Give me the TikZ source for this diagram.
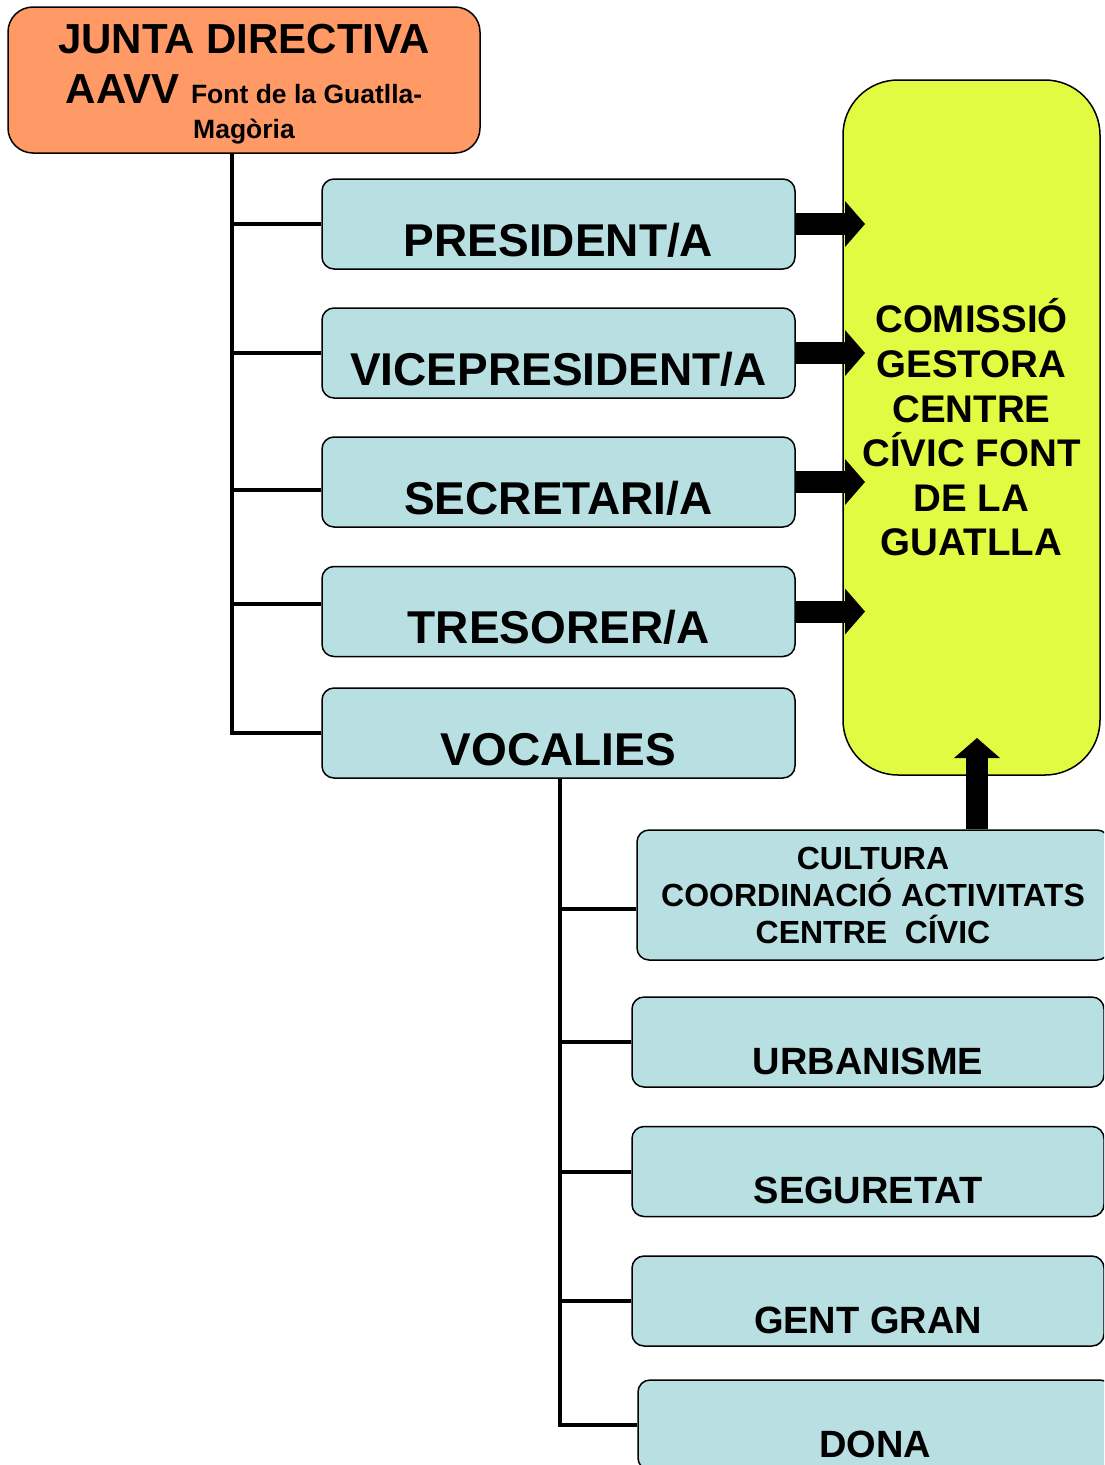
\documentclass[tikz,border=0pt]{standalone}
\usepackage{fontspec}
\setmainfont{Liberation Sans}
\usetikzlibrary{arrows.meta}
\definecolor{juntaorange}{HTML}{FF9966}
\definecolor{carrecblue}{HTML}{B8DFE2}
\definecolor{comissioyellow}{HTML}{E1FB42}

\begin{document}
\begin{tikzpicture}[x=1pt, y=-1pt,
  conn/.style={line width=4pt},
  block/.style={line width=22pt, -{Triangle[length=20pt, width=46pt, line width=0pt]}},
  junta/.style={draw, line width=1.5pt, fill=juntaorange, rounded corners=25pt,
    minimum width=472pt, minimum height=146pt, align=center, inner sep=2pt,
    font=\bfseries\fontsize{42}{50}\selectfont},
  carrec/.style={draw, line width=1.5pt, fill=carrecblue, rounded corners=12pt,
    minimum width=473pt, minimum height=90pt, inner sep=2pt,
    text height=64pt, text depth=0pt, font=\bfseries\fontsize{46}{55}\selectfont},
  vocal/.style={carrec, minimum width=472pt, font=\bfseries\fontsize{38}{45}\selectfont},
  comissio/.style={draw, line width=1.5pt, fill=comissioyellow, rounded corners=55pt,
    minimum width=257pt, minimum height=695pt, align=center, inner sep=2pt,
    font=\bfseries\fontsize{38.5}{44.6}\selectfont}]
\useasboundingbox (0,0) rectangle (1104,1465);
\clip (0,0) rectangle (1104,1465);

\node[junta] (junta) at (244,80) {\rule{0pt}{38pt}JUNTA DIRECTIVA\\ AAVV {\fontsize{26.5}{35}\selectfont Font de la Guatlla-}\\[-15pt] {\fontsize{26.5}{35}\selectfont Magòria}};

\node[comissio] (comissio) at (971.5,427.5) {COMISSIÓ\\GESTORA\\CENTRE\\CÍVIC FONT\\DE LA\\GUATLLA};

\node[carrec] (pres) at (558.5,224) {PRESIDENT/A};
\node[carrec] (vice) at (558.5,353) {VICEPRESIDENT/A};
\node[carrec] (secr) at (558.5,482) {SECRETARI/A};
\node[carrec] (treso) at (558.5,611.5) {TRESORER/A};
\node[carrec] (voc) at (558.5,733) {VOCALIES};

\node[vocal, align=center, text height=, text depth=, minimum height=130pt,
  font=\bfseries\fontsize{32}{37}\selectfont] (cult) at (873,895)
  {CULTURA\\COORDINACIÓ ACTIVITATS\\CENTRE\ \ CÍVIC};
\node[vocal] (urban) at (868,1042) {URBANISME};
\node[vocal] (segur) at (868,1171.5) {SEGURETAT};
\node[vocal] (gent) at (868,1301) {GENT GRAN};
\node[vocal, minimum width=474pt] (dona) at (875,1425) {DONA};

% junta -> carrecs
\coordinate (trunk) at (232,153);
\draw[conn] (junta.south -| trunk) |- (voc.west);
\draw[conn] (trunk |- pres.west) -- (pres.west);
\draw[conn] (trunk |- vice.west) -- (vice.west);
\draw[conn] ([yshift=-8pt]secr.west -| trunk) -- ([yshift=-8pt]secr.west);
\draw[conn] ([yshift=8pt]treso.west -| trunk) -- ([yshift=8pt]treso.west);

% vocalies
\coordinate (vtrunk) at (560,778);
\draw[conn] (voc.south -| vtrunk) |- (dona.west);
\draw[conn] ([yshift=-14pt]cult.west -| vtrunk) -- ([yshift=-14pt]cult.west);
\foreach \n in {urban,segur,gent}
  \draw[conn] (vtrunk |- \n.west) -- (\n.west);

% fletxes cap a la comissio
\coordinate (arrTip) at (865,0);
\foreach \n in {pres,vice,secr,treso}
  \draw[block] (\n.east) -- (\n.east -| arrTip);
\coordinate (upTip) at (977,738);
\draw[block] (upTip |- cult.north) -- (upTip);
\end{tikzpicture}
\end{document}
